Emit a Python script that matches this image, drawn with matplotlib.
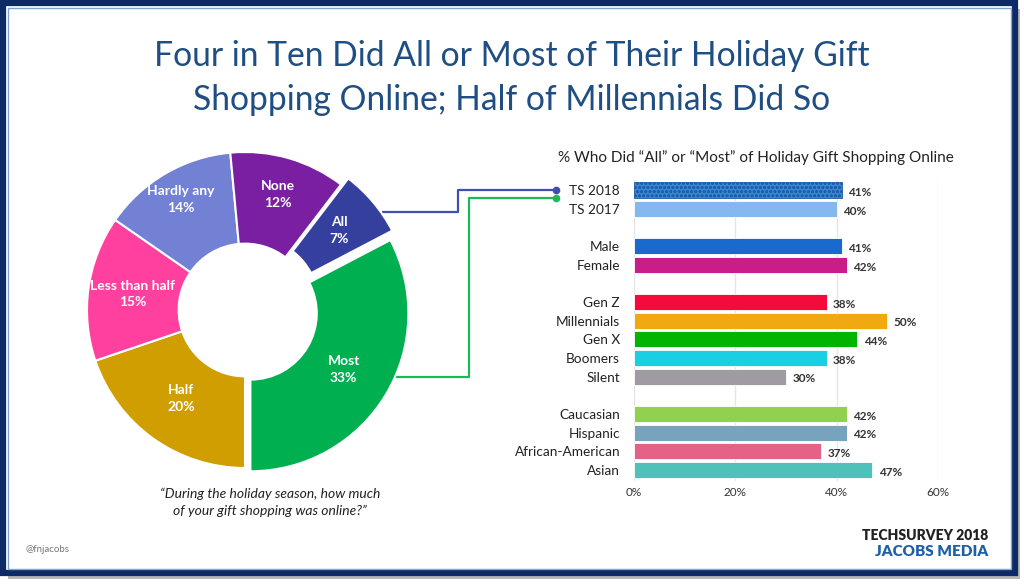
import numpy as np
import matplotlib
matplotlib.use("Agg")
import matplotlib.pyplot as plt
from matplotlib.patches import Rectangle

plt.rcParams['font.family'] = ['Lato', 'DejaVu Sans']
plt.rcParams['hatch.linewidth'] = 0.8

# ---------------- data ----------------
donut_labels = ["All", "Most", "Half", "Less than half", "Hardly any", "None"]
donut_values = [7, 33, 20, 15, 14, 12]
donut_colors = ["#343F9E", "#00B050", "#D09E00", "#FF409E", "#7381D4", "#7B1FA2"]
donut_explode = [0.06, 0.04, 0, 0, 0, 0]

bar_labels = ["TS 2018", "TS 2017", "Male", "Female", "Gen Z", "Millennials",
              "Gen X", "Boomers", "Silent", "Caucasian", "Hispanic",
              "African-American", "Asian"]
bar_values = [41, 40, 41, 42, 38, 50, 44, 38, 30, 42, 42, 37, 47]
bar_pos = [0, 1, 3, 4, 6, 7, 8, 9, 10, 12, 13, 14, 15]
bar_colors = ["#3A86D6", "#85B8EE", "#1A6ACD", "#C81D8A", "#F50A3C", "#F0A90F",
              "#00B400", "#1BCFE3", "#A09AA2", "#92D050", "#77A3BC", "#E56187",
              "#50C0BA"]
x_ticks = [0, 20, 40, 60]

title = "Four in Ten Did All or Most of Their Holiday Gift\nShopping Online; Half of Millennials Did So"
bar_title = "% Who Did \u201cAll\u201d or \u201cMost\u201d of Holiday Gift Shopping Online"
question = "\u201cDuring the holiday season, how much\nof your gift shopping was online?\u201d"

W, H = 1024, 584
fig = plt.figure(figsize=(W / 100, H / 100), dpi=100)
fig.patch.set_facecolor("white")

# overlay in pixel coords for frame, connectors and text
ov = fig.add_axes([0, 0, 1, 1], zorder=0)
ov.set_xlim(0, W)
ov.set_ylim(H, 0)
ov.axis("off")

# shadow + frame
ov.add_patch(Rectangle((8, 9), 1012, 570, facecolor="#B8B8B8", edgecolor="none", zorder=0))
ov.add_patch(Rectangle((3, 3), 1012, 570, facecolor="white", edgecolor="#0D2A66", lw=4.5, zorder=1))
ov.add_patch(Rectangle((7.5, 7.5), 1003, 561, facecolor="none", edgecolor="#7FA6D0", lw=1.0, zorder=2))

ov.text(512, 78, title, ha="center", va="center", fontsize=24.2, color="#1F4E82",
        linespacing=1.5, zorder=3)

# ---------------- donut ----------------
pie_cx, pie_cy, R = 245, 310, 158
half = 180
pax = fig.add_axes([(pie_cx - half) / W, 1 - (pie_cy + half) / H, 2 * half / W, 2 * half / H], zorder=2)
total = sum(donut_values)
start = -90 + (donut_values[0] + donut_values[1]) / total * 360
wedges, _ = pax.pie(donut_values, colors=donut_colors, explode=donut_explode,
                    startangle=start, counterclock=False, radius=1.0,
                    wedgeprops=dict(width=0.58, edgecolor="white", linewidth=1.5))
pax.set_xlim(-half / R, half / R)
pax.set_ylim(-half / R, half / R)
pax.set_aspect("equal")
pax.axis("off")

label_r = [0.72, 0.69, 0.69, 0.72, 0.81, 0.76]
for w, lab, val, lr, ex in zip(wedges, donut_labels, donut_values, label_r, donut_explode):
    ang = np.deg2rad((w.theta1 + w.theta2) / 2)
    r = lr + ex
    pax.text(r * np.cos(ang), r * np.sin(ang), f"{lab}\n{val}%", ha="center", va="center",
             color="white", fontsize=10, fontweight="bold", linespacing=1.45)

ov.text(270, 502, question, ha="center", va="center", fontsize=10, style="italic",
        color="#222222", linespacing=1.45, zorder=3)

# ---------------- bars ----------------
bx0, bx1 = 634, 938
by0, by1 = 180, 481
bax = fig.add_axes([bx0 / W, 1 - by1 / H, (bx1 - bx0) / W, (by1 - by0) / H], zorder=2)
bars = bax.barh(bar_pos, bar_values, height=0.86, color=bar_colors, edgecolor="white",
                linewidth=0.6, zorder=3)
bars[0].set_hatch("oooo")
bars[0].set_edgecolor("#1E5DAA")
bax.set_xlim(0, 60)
bax.set_ylim(15.6, -0.55)
bax.set_xticks(x_ticks)
bax.set_xticklabels([f"{t}%" for t in x_ticks], fontsize=8.5, color="#333333")
bax.set_yticks(bar_pos)
bax.set_yticklabels(bar_labels, fontsize=9.8, color="#222222")
bax.tick_params(length=0)
bax.tick_params(axis="x", pad=4)
bax.tick_params(axis="y", pad=10)
for s in bax.spines.values():
    s.set_visible(False)
bax.grid(axis="x", color="#E6E6E6", linewidth=1, zorder=0)
for p, v in zip(bar_pos, bar_values):
    bax.text(v + 1.3, p + 0.12, f"{v}%", va="center", ha="left", fontsize=8.5,
             fontweight="bold", color="#333333")

ov.text(756, 158, bar_title, ha="center", va="center", fontsize=11, color="#222222", zorder=3)

# connector lines
ov.plot([383, 458, 458, 556], [212, 212, 190, 190], color="#3F4FB0", lw=1.6, zorder=3)
ov.plot([392, 469, 469, 556], [377, 377, 198, 198], color="#1DB85A", lw=1.6, zorder=3)
ov.plot([556], [190], "o", color="#3F4FB0", ms=4.5, zorder=4)
ov.plot([556], [198], "o", color="#1DB85A", ms=4.5, zorder=4)

# footer
ov.text(25, 549, "@fnjacobs", ha="left", va="center", fontsize=7, color="#777777", zorder=3)
ov.text(988, 535, "TECHSURVEY 2018", ha="right", va="center", fontsize=10,
        fontweight="heavy", color="#222222", zorder=3)
ov.text(988, 551, "JACOBS MEDIA", ha="right", va="center", fontsize=11,
        fontweight="heavy", color="#1F5FA8", zorder=3)

fig.savefig("out.png", dpi=100)
